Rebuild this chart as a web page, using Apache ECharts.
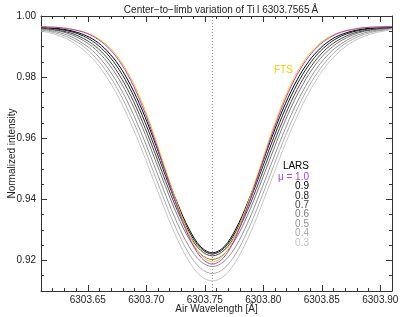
<!DOCTYPE html>
<html><head><meta charset="utf-8">
<script src="https://cdn.jsdelivr.net/npm/echarts@6/dist/echarts.min.js"></script>
<style>html,body{margin:0;padding:0;background:#fff}#c{width:403px;height:317px}</style>
</head><body><div id="c"></div>
<script>
// ---- data ----
const wavelength = [6303.61, 6303.6165, 6303.6265, 6303.6365, 6303.6465, 6303.6565, 6303.6665, 6303.6765, 6303.6865, 6303.6965, 6303.7065, 6303.7165, 6303.7265, 6303.7365, 6303.7465, 6303.7565, 6303.7665, 6303.7765, 6303.7865, 6303.7965, 6303.8065, 6303.8165, 6303.8265, 6303.8365, 6303.8465, 6303.8565, 6303.8665, 6303.8765, 6303.8865, 6303.8965, 6303.9065, 6303.91];
const fts   = [0.9965, 0.9964, 0.9962, 0.9957, 0.9948, 0.9932, 0.9905, 0.9862, 0.9799, 0.9716, 0.9613, 0.9498, 0.9384, 0.9286, 0.9219, 0.9195, 0.9219, 0.9286, 0.9384, 0.9498, 0.9613, 0.9716, 0.9799, 0.9862, 0.9905, 0.9932, 0.9948, 0.9957, 0.9962, 0.9964, 0.9965, 0.9966];
const mu10  = [0.9965, 0.9964, 0.9962, 0.9956, 0.9947, 0.9929, 0.9900, 0.9855, 0.9791, 0.9706, 0.9603, 0.9488, 0.9375, 0.9277, 0.9211, 0.9188, 0.9211, 0.9277, 0.9375, 0.9488, 0.9603, 0.9706, 0.9791, 0.9855, 0.9900, 0.9929, 0.9947, 0.9956, 0.9962, 0.9964, 0.9965, 0.9966];
const mu09  = [0.9963, 0.9962, 0.9958, 0.9951, 0.9939, 0.9919, 0.9886, 0.9839, 0.9774, 0.9692, 0.9595, 0.9490, 0.9388, 0.9303, 0.9245, 0.9225, 0.9245, 0.9303, 0.9388, 0.9490, 0.9595, 0.9692, 0.9774, 0.9839, 0.9886, 0.9919, 0.9939, 0.9951, 0.9958, 0.9962, 0.9964, 0.9965];
const mu08  = [0.9962, 0.9961, 0.9956, 0.9948, 0.9934, 0.9911, 0.9876, 0.9826, 0.9759, 0.9675, 0.9578, 0.9476, 0.9377, 0.9295, 0.9240, 0.9221, 0.9240, 0.9295, 0.9377, 0.9476, 0.9578, 0.9675, 0.9759, 0.9826, 0.9876, 0.9911, 0.9934, 0.9948, 0.9956, 0.9961, 0.9963, 0.9964];
const mu07  = [0.9960, 0.9958, 0.9952, 0.9943, 0.9926, 0.9901, 0.9863, 0.9810, 0.9741, 0.9656, 0.9560, 0.9459, 0.9364, 0.9285, 0.9233, 0.9215, 0.9233, 0.9285, 0.9364, 0.9459, 0.9560, 0.9656, 0.9741, 0.9810, 0.9863, 0.9901, 0.9926, 0.9943, 0.9952, 0.9958, 0.9961, 0.9963];
const mu06  = [0.9958, 0.9956, 0.9950, 0.9938, 0.9919, 0.9891, 0.9850, 0.9794, 0.9723, 0.9637, 0.9540, 0.9441, 0.9348, 0.9271, 0.9221, 0.9203, 0.9221, 0.9271, 0.9348, 0.9441, 0.9540, 0.9637, 0.9723, 0.9794, 0.9850, 0.9891, 0.9919, 0.9938, 0.9950, 0.9956, 0.9960, 0.9962];
const mu05  = [0.9956, 0.9953, 0.9945, 0.9931, 0.9909, 0.9878, 0.9833, 0.9773, 0.9699, 0.9610, 0.9513, 0.9414, 0.9322, 0.9246, 0.9197, 0.9180, 0.9197, 0.9246, 0.9322, 0.9414, 0.9513, 0.9610, 0.9699, 0.9773, 0.9833, 0.9878, 0.9909, 0.9931, 0.9945, 0.9953, 0.9958, 0.9961];
const mu04  = [0.9954, 0.9950, 0.9940, 0.9924, 0.9900, 0.9864, 0.9816, 0.9753, 0.9675, 0.9585, 0.9486, 0.9387, 0.9296, 0.9222, 0.9174, 0.9157, 0.9174, 0.9222, 0.9296, 0.9387, 0.9486, 0.9585, 0.9675, 0.9753, 0.9816, 0.9864, 0.9900, 0.9924, 0.9940, 0.9950, 0.9956, 0.9960];
const mu03  = [0.9950, 0.9946, 0.9934, 0.9916, 0.9888, 0.9850, 0.9798, 0.9732, 0.9651, 0.9559, 0.9459, 0.9360, 0.9270, 0.9197, 0.9149, 0.9133, 0.9149, 0.9197, 0.9270, 0.9360, 0.9459, 0.9559, 0.9651, 0.9732, 0.9798, 0.9850, 0.9888, 0.9916, 0.9934, 0.9946, 0.9953, 0.9958];
const muLabels = ['\u03bc = 1.0', '0.9', '0.8', '0.7', '0.6', '0.5', '0.4', '0.3'];
const lineCenter = 6303.7565;
const xRange = [6303.61, 6303.91];
const yRange = [0.91, 1.00];
const xTicks = [6303.65, 6303.70, 6303.75, 6303.80, 6303.85, 6303.90];
const xMinor = [6303.62, 6303.63, 6303.64, 6303.66, 6303.67, 6303.68, 6303.69, 6303.71, 6303.72, 6303.73, 6303.74, 6303.76, 6303.77, 6303.78, 6303.79, 6303.81, 6303.82, 6303.83, 6303.84, 6303.86, 6303.87, 6303.88, 6303.89];
const yTicks = [0.92, 0.94, 0.96, 0.98, 1.00];
const yMinor = [0.915, 0.925, 0.93, 0.935, 0.945, 0.95, 0.955, 0.965, 0.97, 0.975, 0.985, 0.99, 0.995];

// ---- chart ----
const FONT = '"Liberation Sans", Arial, sans-serif';
const AX = '#333';
const chart = echarts.init(document.getElementById('c'));

function axis(kind, pos, ticks, len, main, labels) {
  const range = kind === 'x' ? xRange : yRange;
  return {
    type: 'value', position: pos, min: range[0], max: range[1],
    axisLine: { show: main, onZero: false, lineStyle: { color: AX, width: 1 } },
    axisTick: { show: true, inside: true, length: len, customValues: ticks, lineStyle: { color: AX, width: 1 } },
    axisLabel: labels ? {
      show: true, customValues: ticks, color: '#222', fontSize: 10, fontFamily: FONT,
      margin: kind === 'x' ? 4 : 5,
      formatter: v => Number(v).toFixed(2)
    } : { show: false },
    splitLine: { show: false },
    name: labels ? (kind === 'x' ? 'Air Wavelength [\u00c5]' : 'Normalized intensity') : '',
    nameLocation: 'middle',
    nameMoveOverlap: false,
    nameGap: kind === 'x' ? 13 : 24,
    nameTextStyle: { color: '#222', fontSize: 10, fontFamily: FONT }
  };
}

const curves = [
  { data: mu03, color: '#c4c4c4' },
  { data: mu04, color: '#ababab' },
  { data: mu05, color: '#909090' },
  { data: mu06, color: '#7a7a7a' },
  { data: mu07, color: '#454545' },
  { data: mu08, color: '#222222' },
  { data: mu09, color: '#000000' },
  { data: fts,  color: '#FFD000' },
  { data: mu10, color: '#A63FE0' }
];
const labelColors = ['#A63FE0', '#000000', '#222222', '#454545', '#7a7a7a', '#909090', '#ababab', '#c4c4c4'];

const series = curves.map(c => ({
  type: 'line', xAxisIndex: 0, yAxisIndex: 0,
  data: wavelength.map((w, i) => [w, c.data[i]]),
  showSymbol: false, smooth: 0.35, silent: true,
  lineStyle: { width: 1, color: c.color }, z: 3
}));
series.unshift({
  type: 'line', xAxisIndex: 0, yAxisIndex: 0,
  data: [[lineCenter, yRange[0]], [lineCenter, yRange[1]]],
  showSymbol: false, silent: true,
  lineStyle: { width: 1, color: '#888', type: [1, 2] }, z: 2
});

const graphic = [
  { type: 'text', x: 274, y: 70, style: { text: 'FTS', fill: '#FFC800', font: '10px ' + FONT, verticalAlign: 'middle' } },
  { type: 'text', x: 309, y: 166, style: { text: 'LARS', fill: '#000', font: '10px ' + FONT, align: 'right', verticalAlign: 'middle' } }
];
muLabels.forEach((t, i) => {
  graphic.push({ type: 'text', x: 309, y: 177 + i * 9.4, style: { text: t, fill: labelColors[i], font: '10px ' + FONT, align: 'right', verticalAlign: 'middle' } });
});

chart.setOption({
  animation: false,
  backgroundColor: '#fff',
  title: {
    text: 'Center\u2212to\u2212limb variation of Ti\u2009I 6303.7565\u2009\u00c5',
    left: 216, top: 0, textAlign: 'center',
    textStyle: { fontSize: 10, fontWeight: 'normal', color: '#222', fontFamily: FONT }
  },
  grid: { left: 41, right: 11, top: 16, bottom: 26, containLabel: false, outerBoundsMode: 'none' },
  xAxis: [
    axis('x', 'bottom', xTicks, 6, true, true),
    axis('x', 'bottom', xMinor, 3, false, false),
    axis('x', 'top', xTicks, 6, true, false),
    axis('x', 'top', xMinor, 3, false, false)
  ],
  yAxis: [
    axis('y', 'left', yTicks, 6, true, true),
    axis('y', 'left', yMinor, 3, false, false),
    axis('y', 'right', yTicks, 6, true, false),
    axis('y', 'right', yMinor, 3, false, false)
  ],
  series: series,
  graphic: graphic
});
</script></body></html>
